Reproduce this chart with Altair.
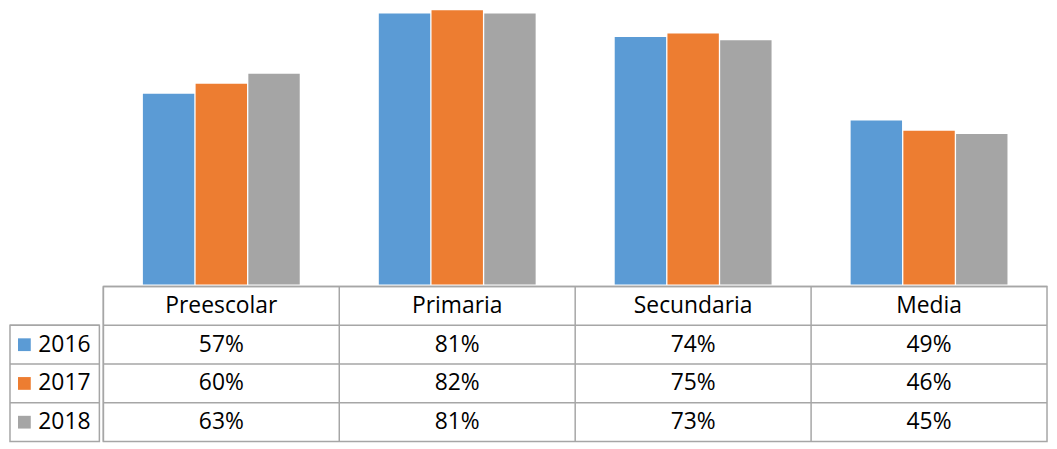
import altair as alt
import pandas as pd

categories = ["Preescolar", "Primaria", "Secundaria", "Media"]
years = ["2016", "2017", "2018"]
v2016 = [57, 81, 74, 49]
v2017 = [60, 82, 75, 46]
v2018 = [63, 81, 73, 45]
colors = ["#5B9BD5", "#ED7D31", "#A5A5A5"]
row_keys = ["header", "2016", "2017", "2018"]

LINE = "#a6a6a6"
FONT = "Open Sans"
FS = 23

series = {"2016": v2016, "2017": v2017, "2018": v2018}

bars_df = pd.DataFrame(
    [{"cat": c, "year": y, "value": v} for y in years for c, v in zip(categories, series[y])]
)

rows = []
for c in categories:
    rows.append({"row": "header", "cat": c, "text": c})
for y in years:
    for c, v in zip(categories, series[y]):
        rows.append({"row": y, "cat": c, "text": f"{v}%"})
table_df = pd.DataFrame(rows)
label_df = pd.DataFrame({"year": years})
cat_df = pd.DataFrame({"cat": categories})
row_df = pd.DataFrame({"row": row_keys})

color_scale = alt.Scale(domain=years, range=colors)

bars = alt.Chart(bars_df).mark_bar().encode(
    x=alt.X("cat:N", sort=categories, axis=None, scale=alt.Scale(paddingInner=0, paddingOuter=0)),
    xOffset=alt.XOffset("year:N", sort=years, scale=alt.Scale(paddingInner=0.025, paddingOuter=0.75)),
    y=alt.Y("value:Q", axis=None, scale=alt.Scale(domain=[0, 82.2], nice=False, zero=True)),
    color=alt.Color("year:N", scale=color_scale, legend=None),
).properties(width=950, height=277, view=alt.ViewBackground(stroke=None))

xcat = alt.X("cat:N", sort=categories, axis=None,
             scale=alt.Scale(domain=categories, paddingInner=0, paddingOuter=0))
yrow = alt.Y("row:N", sort=row_keys, axis=None,
             scale=alt.Scale(domain=row_keys, paddingInner=0, paddingOuter=0))

table_text = alt.Chart(table_df).mark_text(font=FONT, fontSize=FS, color="black").encode(
    x=xcat, y=yrow, text="text:N",
)
vlines = alt.Chart(cat_df).mark_rule(color=LINE, strokeWidth=1.5).encode(
    x=alt.X("cat:N", sort=categories, axis=None, bandPosition=0,
            scale=alt.Scale(domain=categories, paddingInner=0, paddingOuter=0)),
)
hlines = alt.Chart(row_df).mark_rule(color=LINE, strokeWidth=1.5).encode(
    y=alt.Y("row:N", sort=row_keys, axis=None, bandPosition=0,
            scale=alt.Scale(domain=row_keys, paddingInner=0, paddingOuter=0)),
)
table = alt.layer(vlines, hlines, table_text).properties(width=950, height=156)

yyear = alt.Y("year:N", sort=years, axis=None,
              scale=alt.Scale(domain=years, paddingInner=0, paddingOuter=0))
squares = alt.Chart(label_df).mark_square(size=165, opacity=1).encode(
    y=yyear,
    x=alt.value(14.5),
    color=alt.Color("year:N", scale=color_scale, legend=None),
)
ltext = alt.Chart(label_df).mark_text(align="left", font=FONT, fontSize=FS, color="black").encode(
    y=yyear,
    x=alt.value(28.5),
    text="year:N",
)
lhlines = alt.Chart(label_df).mark_rule(color=LINE, strokeWidth=1.5).encode(
    y=alt.Y("year:N", sort=years, axis=None, bandPosition=0,
            scale=alt.Scale(domain=years, paddingInner=0, paddingOuter=0)),
)
labels = alt.layer(lhlines, squares, ltext).properties(width=90, height=117)

spacer = alt.Chart(pd.DataFrame({"v": [0]})).mark_point(opacity=0, size=1).encode(
    x=alt.value(45), y=alt.value(158)
).properties(width=90, height=316, view=alt.ViewBackground(stroke=None))

left = alt.vconcat(spacer, labels, spacing=0).resolve_scale(x="independent", y="independent")
right = alt.vconcat(bars, table, spacing=0).resolve_scale(x="independent", y="independent")

chart = alt.hconcat(left, right, spacing=0).resolve_scale(
    x="independent", y="independent"
).properties(padding=0).configure_view(stroke=LINE, strokeWidth=1.5)

chart.save("out.html", embed_options={"renderer": "svg", "actions": False})
